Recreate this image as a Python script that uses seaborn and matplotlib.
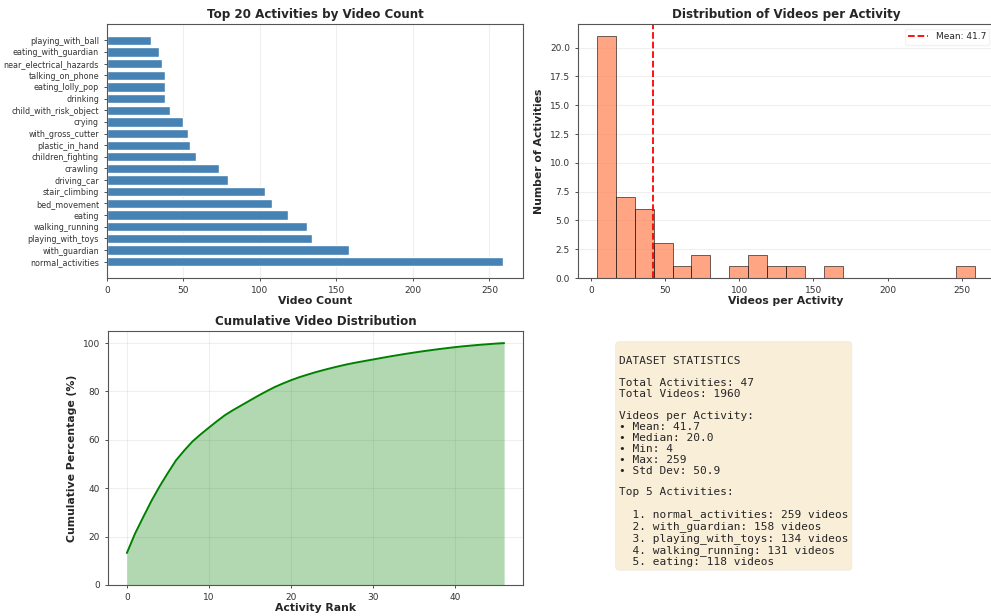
import numpy as np
import pandas as pd
import seaborn as sns
import matplotlib
matplotlib.use("Agg")
import matplotlib.pyplot as plt

# ---- data ----
top_names = ["normal_activities", "with_guardian", "playing_with_toys", "walking_running",
             "eating", "bed_movement", "stair_climbing", "driving_car", "crawling",
             "children_fighting", "plastic_in_hand", "with_gross_cutter", "crying",
             "child_with_risk_object", "drinking", "eating_lolly_pop", "talking_on_phone",
             "near_electrical_hazards", "eating_with_guardian", "playing_with_ball"]
top_counts = [259, 158, 134, 131, 118, 108, 103, 79, 73, 58, 54, 53, 50, 41, 38, 38, 38, 36, 34, 29]
# remaining 27 activities (not labelled in the chart), read from histogram bins
other_counts = [27, 24, 21, 20, 18, 17,
                16, 15, 13, 12, 12, 12, 12, 11, 11, 10, 10, 9, 9, 8, 8, 7, 6, 6, 5, 5, 4]

all_counts = np.array(top_counts + other_counts)
mean_val = all_counts.mean()
sorted_counts = np.sort(all_counts)[::-1]
cum_pct = np.cumsum(sorted_counts) / sorted_counts.sum() * 100
ranks = np.arange(len(sorted_counts))

sns.set_style("ticks")
plt.rcParams["font.family"] = ["DejaVu Sans"]
plt.rcParams.update({
    "xtick.labelsize": 6.5, "ytick.labelsize": 6.5,
    "xtick.major.size": 2.3, "ytick.major.size": 2.3,
    "xtick.major.width": 0.6, "ytick.major.width": 0.6,
    "axes.linewidth": 0.8, "axes.edgecolor": "#555555",
    "xtick.color": "#333333", "ytick.color": "#333333",
})

W, H = 991, 616
fig = plt.figure(figsize=(W / 100, H / 100), dpi=100)

def box(l, t, r, b):
    return [l / W, 1 - b / H, (r - l) / W, (b - t) / H]

title_kw = dict(fontsize=8.6, fontweight="bold", pad=4)
label_kw = dict(fontsize=7.8, fontweight="bold")

# ---- top-left: bars ----
ax1 = fig.add_axes(box(107, 24, 523, 278))
df_top = pd.DataFrame({"activity": top_names, "count": top_counts})
sns.barplot(data=df_top, x="count", y="activity", order=top_names[::-1], orient="h",
            color="steelblue", saturation=1, width=0.8, ax=ax1)
ax1.set_ylim(len(top_names) - 1 + 1.39, -1.39)
ax1.set_xlim(0, max(top_counts) * 1.05)
ax1.tick_params(axis="y", labelsize=5.8)
ax1.set_ylabel("")
ax1.set_xlabel("Video Count", labelpad=1, **label_kw)
ax1.set_title("Top 20 Activities by Video Count", **title_kw)
ax1.grid(axis="x", alpha=0.3)
ax1.set_axisbelow(True)

# ---- top-right: histogram ----
ax2 = fig.add_axes(box(578, 24, 994, 278))
sns.histplot(x=all_counts, bins=20, color="coral", alpha=0.7, edgecolor="black",
             linewidth=0.4, ax=ax2)
ax2.axvline(mean_val, color="red", linestyle="--", linewidth=1.3,
            label=f"Mean: {mean_val:.1f}")
ax2.set_ylim(0, 21 * 1.05)
ax2.set_xlabel("Videos per Activity", labelpad=1, **label_kw)
ax2.set_ylabel("Number of Activities", **label_kw)
ax2.set_title("Distribution of Videos per Activity", **title_kw)
ax2.grid(axis="y", alpha=0.3)
ax2.set_axisbelow(True)
ax2.legend(fontsize=6.5, loc="upper right", frameon=True, framealpha=0.8,
           edgecolor="#f0f0f0", handlelength=2.2)

# ---- bottom-left: cumulative ----
ax3 = fig.add_axes(box(108, 331, 523, 585))
ax3.fill_between(ranks, cum_pct, alpha=0.3, color="green", linewidth=0)
sns.lineplot(x=ranks, y=cum_pct, color="green", linewidth=1.4, ax=ax3)
ax3.set_xlim(-0.05 * ranks.max(), ranks.max() * 1.05)
ax3.set_ylim(0, 105)
ax3.set_xlabel("Activity Rank", labelpad=1, **label_kw)
ax3.set_ylabel("Cumulative Percentage (%)", **label_kw)
ax3.set_title("Cumulative Video Distribution", **title_kw)
ax3.grid(alpha=0.3)
ax3.set_axisbelow(True)

# ---- bottom-right: stats text ----
top5 = "\n".join(f"  {i + 1}. {n}: {c} videos"
                 for i, (n, c) in enumerate(zip(top_names[:5], top_counts[:5])))
stats_text = (
    "\nDATASET STATISTICS\n\n"
    f"Total Activities: {len(all_counts)}\n"
    f"Total Videos: {all_counts.sum()}\n\n"
    "Videos per Activity:\n"
    f"• Mean: {mean_val:.1f}\n"
    f"• Median: {np.median(all_counts):.1f}\n"
    f"• Min: {all_counts.min()}\n"
    f"• Max: {all_counts.max()}\n"
    f"• Std Dev: {pd.Series(all_counts).std():.1f}\n\n"
    "Top 5 Activities:\n\n" + top5
)
fig.text(619 / W, 1 - 345 / H, stats_text, fontsize=8.0, family="DejaVu Sans Mono",
         va="top", ha="left", linespacing=1.12,
         bbox=dict(boxstyle="round,pad=0.3", facecolor="wheat", alpha=0.5, edgecolor="#dddddd",
                   linewidth=0.5))

fig.savefig("out.png", dpi=100)
